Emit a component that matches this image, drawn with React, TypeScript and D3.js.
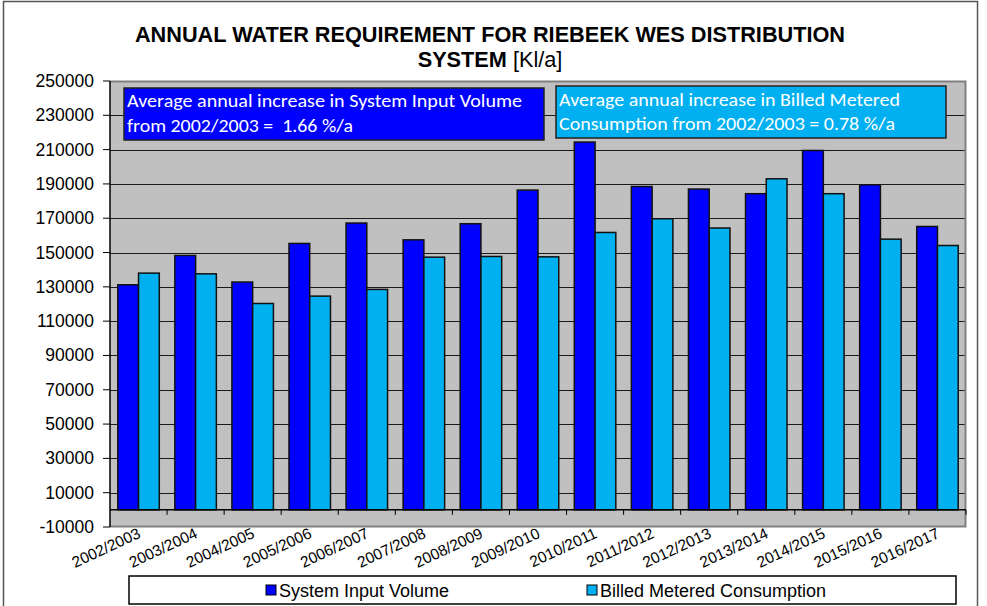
import React from "react";
import * as d3 from "d3";

const categories = [
  "2002/2003", "2003/2004", "2004/2005", "2005/2006", "2006/2007",
  "2007/2008", "2008/2009", "2009/2010", "2010/2011", "2011/2012",
  "2012/2013", "2013/2014", "2014/2015", "2015/2016", "2016/2017",
];
const systemInputVolume = [
  131200, 148300, 132800, 155300, 167200, 157400, 166800, 186400,
  214400, 188500, 187000, 184300, 209500, 189500, 165200,
];
const billedMeteredConsumption = [
  138000, 137600, 120300, 124600, 128500, 147300, 147700, 147500,
  161700, 169700, 164300, 193000, 184300, 157800, 154100,
];
const seriesNames = ["System Input Volume", "Billed Metered Consumption"];
const yTicks = [-10000, 10000, 30000, 50000, 70000, 90000, 110000, 130000, 150000, 170000, 190000, 210000, 230000, 250000];
const noteSystem = ["Average annual increase in System Input Volume", "from 2002/2003 =  1.66 %/a"];
const noteBilled = ["Average annual increase in Billed Metered", "Consumption from 2002/2003 = 0.78 %/a"];

const W = 987;
const H = 606;
const M = { left: 110, right: 966, top: 81, bottom: 527 };
const COLORS = ["#0000FF", "#00B0F0"];
const ARIAL = "'Liberation Sans', Arial, sans-serif";
const CALIBRI = "Carlito, Calibri, Lato, sans-serif";

export default function App() {
  const y = d3.scaleLinear().domain([-10000, 250000]).range([M.bottom, M.top]);
  const x = d3.scaleBand<string>().domain(categories).range([M.left, M.right]).paddingInner(0).paddingOuter(0);
  const x1 = d3.scaleBand<string>().domain(seriesNames).range([0, x.bandwidth()]).paddingInner(0).paddingOuter(0.375);
  const series = [systemInputVolume, billedMeteredConsumption];
  const y0 = y(0);

  return (
    <div style={{ position: "absolute", left: 0, top: 0 }}>
      <svg width={W} height={H} style={{ display: "block", background: "#fff" }}>
        <rect x={3.5} y={1.5} width={974} height={640} fill="#fff" stroke="#555" strokeWidth={1.5} />
        {/* title */}
        <text x={490} y={42} textAnchor="middle" fontFamily={ARIAL} fontWeight="bold" fontSize={21.7} fill="#000">
          ANNUAL WATER REQUIREMENT FOR RIEBEEK WES DISTRIBUTION
        </text>
        <text x={490} y={67} textAnchor="middle" fontFamily={ARIAL} fontSize={21.7} fill="#000">
          <tspan fontWeight="bold">SYSTEM</tspan>
          <tspan> [Kl/a]</tspan>
        </text>
        {/* plot area */}
        <rect x={M.left} y={M.top} width={M.right - M.left} height={M.bottom - M.top} fill="#C0C0C0" />
        {yTicks.filter((t) => t > -10000 && t < 250000).map((t) => (
          <line key={t} x1={M.left} x2={M.right} y1={Math.round(y(t)) + 0.5} y2={Math.round(y(t)) + 0.5} stroke="#1a1a1a" strokeWidth={1} />
        ))}
        <path d={`M${M.left},${M.top + 0.5}H${M.right - 0.5}V${M.bottom - 0.5}H${M.left}`} fill="none" stroke="#808080" strokeWidth={2} />
        {/* bars */}
        {categories.map((c, i) => (
          <g key={c}>
            {series.map((s, j) => {
              const bx = (x(c) as number) + (x1(seriesNames[j]) as number);
              const top = y(s[i]);
              return (
                <rect key={j} x={bx} y={top} width={x1.bandwidth()} height={y0 - top} fill={COLORS[j]} stroke="#111" strokeWidth={1.5} />
              );
            })}
          </g>
        ))}
        {/* category axis at zero */}
        <line x1={M.left} x2={M.right} y1={y0} y2={y0} stroke="#000" strokeWidth={1.5} />
        {categories.map((c) => (
          <line key={"t" + c} x1={(x(c) as number) + x.bandwidth()} x2={(x(c) as number) + x.bandwidth()} y1={y0} y2={y0 + 5} stroke="#000" strokeWidth={1} />
        ))}
        {/* y axis */}
        <line x1={M.left} x2={M.left} y1={M.top} y2={M.bottom} stroke="#000" strokeWidth={1.5} />
        {yTicks.map((t) => (
          <g key={"y" + t}>
            <line x1={M.left - 7} x2={M.left} y1={y(t)} y2={y(t)} stroke="#000" strokeWidth={1} />
            <text x={M.left - 16} y={y(t) + 6} textAnchor="end" fontFamily={ARIAL} fontSize={17.5} fill="#000">
              {t}
            </text>
          </g>
        ))}
        {/* category labels */}
        {categories.map((c) => {
          const cx = (x(c) as number) + x.bandwidth() / 2;
          return (
            <text key={"l" + c} transform={`translate(${cx + 3},${M.bottom + 10}) rotate(-25)`} textAnchor="end" fontFamily={ARIAL} fontSize={15.5} fill="#000">
              {c}
            </text>
          );
        })}
        {/* annotation boxes */}
        <rect x={124} y={88} width={420} height={52} fill="#0000FF" stroke="#222" strokeWidth={1.5} />
        <text x={127} y={107} fontFamily={CALIBRI} fontSize={17.5} fill="#fff" textLength={395} lengthAdjust="spacingAndGlyphs">{noteSystem[0]}</text>
        <text x={127} y={132} fontFamily={CALIBRI} fontSize={17.5} fill="#fff" textLength={226} lengthAdjust="spacingAndGlyphs" style={{ whiteSpace: "pre" }}>{noteSystem[1]}</text>
        <rect x={556} y={86} width={390} height={52} fill="#00B0F0" stroke="#222" strokeWidth={1.5} />
        <text x={559} y={106} fontFamily={CALIBRI} fontSize={17.5} fill="#fff" textLength={341} lengthAdjust="spacingAndGlyphs">{noteBilled[0]}</text>
        <text x={559} y={130} fontFamily={CALIBRI} fontSize={17.5} fill="#fff" textLength={336} lengthAdjust="spacingAndGlyphs">{noteBilled[1]}</text>
        {/* legend */}
        <rect x={129} y={576} width={827} height={28} fill="#fff" stroke="#000" strokeWidth={1.5} />
        {seriesNames.map((n, j) => {
          const lx = j === 0 ? 266 : 587;
          return (
            <g key={"lg" + n}>
              <rect x={lx} y={585} width={10} height={10} fill={COLORS[j]} stroke="#000" strokeWidth={1} />
              <text x={lx + 13} y={597} fontFamily={ARIAL} fontSize={18} fill="#000">{n}</text>
            </g>
          );
        })}
      </svg>
    </div>
  );
}
